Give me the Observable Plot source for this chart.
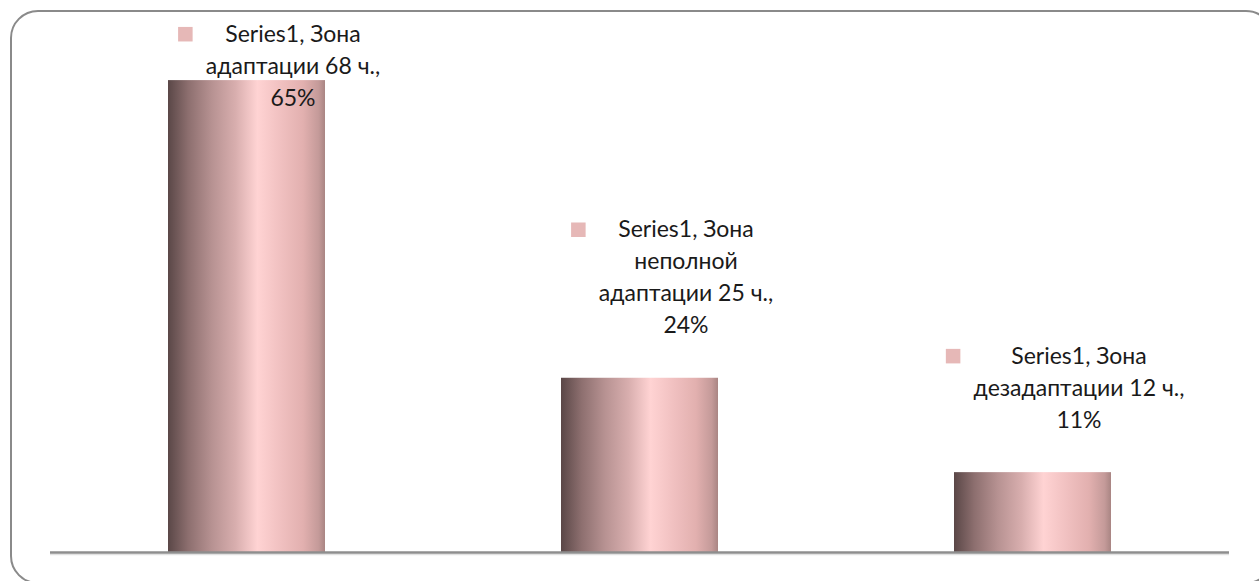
<!DOCTYPE html>
<html>
<head>
<meta charset="utf-8">
<script src="https://cdn.jsdelivr.net/npm/d3@7"></script>
<script src="https://cdn.jsdelivr.net/npm/@observablehq/plot@0.6"></script>
<style>
  html, body { margin: 0; padding: 0; background: #fff; }
  #chart svg { display: block; }
</style>
</head>
<body>
<div id="chart"></div>
<script>
// ---- data ----
const seriesName = "Series1";
const zones = ["Зона адаптации", "Зона неполной адаптации", "Зона дезадаптации"];
const counts = [68, 25, 12];
const percents = [65, 24, 11];

// ---- layout ----
const W = 1259, H = 581;
const marginTop = 43.8, marginBottom = 29, marginLeft = 50, marginRight = 30;
const yMax = 70;
const baseY = H - marginBottom;
const pxPerUnit = (baseY - marginTop) / yMax;
const fontSize = 23;
const fontFamily = "Lato, 'Open Sans', sans-serif";
const lineGap = 32;          // px between label lines
const labelGap = 52.5;       // px between last label line and bar top
const labelTopMin = 33.7;    // px, highest first-line centre
const textDx = 46;

const data = zones.map((z, i) => ({zone: z, count: counts[i], pct: percents[i]}));

function labelLines(d) {
  const words = d.zone.split(" ");
  const rest = words.slice(1);
  const lines = [`${seriesName}, ${words[0]}`];
  rest.forEach((w, j) => lines.push(j === rest.length - 1 ? `${w} ${d.count} ч.,` : w));
  lines.push(`${d.pct}%`);
  return lines;
}

const ctx = document.createElement("canvas").getContext("2d");
ctx.font = `${fontSize}px ${fontFamily}`;

const lineData = [];
const markerData = [];
data.forEach((d) => {
  const lines = labelLines(d);
  const barTopPx = baseY - d.pct * pxPerUnit;
  const firstPx = Math.max(barTopPx - (lines.length - 1) * lineGap - labelGap, labelTopMin);
  const firstY = (baseY - firstPx) / pxPerUnit;
  lines.forEach((t, j) => lineData.push({zone: d.zone, y: firstY - j * lineGap / pxPerUnit, text: t}));
  const maxW = d3.max(lines, (t) => ctx.measureText(t).width);
  markerData.push({zone: d.zone, y: firstY, dx: textDx - maxW / 2 - 13 - 7.5});
});

const decor = () => {
  const ns = "http://www.w3.org/2000/svg";
  const g = document.createElementNS(ns, "g");
  g.innerHTML = `
    <defs>
      <linearGradient id="barGrad" x1="0" x2="1" y1="0" y2="0">
        <stop offset="0" stop-color="#5a4747"/>
        <stop offset="0.13" stop-color="#8d6f6f"/>
        <stop offset="0.28" stop-color="#b79292"/>
        <stop offset="0.43" stop-color="#d8aeae"/>
        <stop offset="0.57" stop-color="#ffd3d3"/>
        <stop offset="0.72" stop-color="#f0c0c0"/>
        <stop offset="0.86" stop-color="#e2b0af"/>
        <stop offset="0.96" stop-color="#c49a99"/>
        <stop offset="1" stop-color="#a98583"/>
      </linearGradient>
    </defs>
    <rect x="11" y="11" width="1262" height="572" rx="27" ry="27" fill="none" stroke="#8a8a8a" stroke-width="2"/>`;
  return g;
};

const chart = Plot.plot({
  width: W,
  height: H,
  marginTop, marginBottom, marginLeft, marginRight,
  style: {background: "#fff", fontFamily},
  x: {type: "band", domain: zones, paddingInner: 0.6, paddingOuter: 0.3, axis: null},
  y: {domain: [0, yMax], axis: null},
  marks: [
    decor,
    Plot.barY(data, {x: "zone", y: "pct", fill: "url(#barGrad)"}),
    Plot.ruleY(data, {x1: "zone", x2: "zone", y: "pct", stroke: "none"}),
    Plot.ruleY([0], {stroke: "#e2e2e2", strokeWidth: 1.5, dy: 2}),
    Plot.ruleY([0], {stroke: "#8e8e8e", strokeWidth: 2.5}),
    Plot.text(lineData, {x: "zone", y: "y", text: "text", dx: textDx, lineAnchor: "middle",
      fontSize, fontFamily, fill: "#1a1a1a"}),
    ...markerData.map((m) => Plot.dot([m], {x: "zone", y: "y", dx: m.dx, symbol: "square",
      r: 8.2, fill: "#e6b8b7", stroke: "none"}))
  ]
});
document.getElementById("chart").appendChild(chart);
</script>
</body>
</html>
